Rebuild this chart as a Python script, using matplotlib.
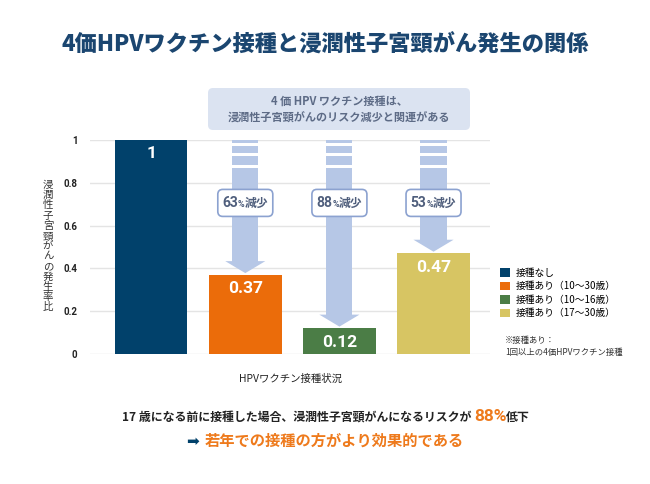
import matplotlib
matplotlib.use('Agg')
import matplotlib.pyplot as plt
import matplotlib.transforms as mtransforms
from matplotlib.patches import Rectangle, Polygon, FancyBboxPatch

plt.rcParams['font.family'] = ['Noto Sans CJK JP', 'DejaVu Sans']

# data
categories = ['接種なし', '接種あり（10～30歳）', '接種あり（10～16歳）', '接種あり（17～30歳）']
values = [1.0, 0.37, 0.12, 0.47]
value_labels = ['1', '0.37', '0.12', '0.47']
reductions = ['', '63', '88', '53']
yticks = [0, 0.2, 0.4, 0.6, 0.8, 1.0]
ytick_labels = ['0', '0.2', '0.4', '0.6', '0.8', '1']
colors = ['#01416b', '#eb6c0a', '#4b7d46', '#d7c563']

title = '4価HPVワクチン接種と浸潤性子宮頸がん発生の関係'
box_lines = ['4 価 HPV ワクチン接種は、', '浸潤性子宮頸がんのリスク減少と関連がある']
ylabel = '浸潤性子宮頸がんの発生率比'
xlabel = 'HPVワクチン接種状況'
note_lines = ['※接種あり：', '1回以上の4価HPVワクチン接種']

ARROW = '#b6c7e6'
W, H = 650, 484

fig = plt.figure(figsize=(6.5, 4.84), dpi=100)
fig.patch.set_facecolor('white')
ax = fig.add_axes([90 / W, (H - 354) / H, 400 / W, 214 / H])
x = list(range(len(values)))
bars = ax.bar(x, values, width=0.77, color=colors, zorder=3)
ax.set_xlim(-0.65, 3.6)
ax.set_ylim(0, 1)
ax.set_yticks(yticks)
ax.set_yticklabels(ytick_labels, fontfamily='Roboto', fontweight='bold', fontsize=7, color='#222222')
ax.set_xticks([])
ax.tick_params(axis='y', length=0, pad=9)
ax.grid(axis='y', color='#e4e4e4', linewidth=1, zorder=0)
for s in ax.spines.values():
    s.set_visible(False)
ax.set_xlabel(xlabel, fontsize=7.5, color='#222222', labelpad=14)

ident = mtransforms.IdentityTransform()
rend = fig.canvas.get_renderer()


def line_of(pieces, cx, py, z=3):
    texts = [fig.text(0, 0, s, transform=ident, va='baseline', ha='left', zorder=z, **kw) for s, kw in pieces]
    widths = [t.get_window_extent(rend).width for t in texts]
    xx = cx - sum(widths) / 2
    for t, w in zip(texts, widths):
        t.set_position((xx, H - py))
        xx += w
    return texts


# bar value labels
for i, (v, lab) in enumerate(zip(values, value_labels)):
    ax.annotate(lab, (i, v), xytext=(0, -10), textcoords='offset points', ha='center', va='center',
                color='white', fontfamily='Roboto', fontweight='bold', fontsize=12.5, zorder=5)

# arrows
shaft_w, head_w, head_h, gap = 0.277, 0.426, 0.056, 0.008
stripes = [(0.984, 1.0), (0.938, 0.973), (0.883, 0.927)]
for i, v in enumerate(values):
    if not reductions[i]:
        continue
    tip = v + gap
    base = tip + head_h
    for lo, hi in stripes:
        ax.add_patch(Rectangle((i - shaft_w / 2, lo), shaft_w, hi - lo, color=ARROW, lw=0, clip_on=False, zorder=2))
    ax.add_patch(Rectangle((i - shaft_w / 2, base - 0.002), shaft_w, 0.872 - base, color=ARROW, lw=0, zorder=2))
    ax.add_patch(Polygon([(i - head_w / 2, base), (i + head_w / 2, base), (i, tip)], closed=True,
                         color=ARROW, lw=0, zorder=2))
    # label box
    cx, cy = ax.transData.transform((i, 0.706))
    fig.add_artist(FancyBboxPatch((cx - 27.5, cy - 13.5), 55, 27, boxstyle='round,pad=0,rounding_size=5',
                                  transform=ident, facecolor='white', edgecolor='#8ca2d0', lw=1.2, zorder=6))
    line_of([(reductions[i], dict(fontfamily='Roboto', fontweight='bold', fontsize=10, color='#4f5e7c')),
             ('%', dict(fontfamily='Roboto', fontweight='bold', fontsize=6.5, color='#4f5e7c')),
             ('減少', dict(fontweight='bold', fontsize=8.5, color='#4f5e7c'))],
            cx, H - cy + 4, z=7)

# top box
fig.add_artist(FancyBboxPatch((2.08, 3.54), 2.62, 0.42, boxstyle='round,pad=0,rounding_size=0.05',
                              transform=fig.dpi_scale_trans, facecolor='#dbe3f1', edgecolor='none'))
fig.text(339 / W, 1 - 101 / H, box_lines[0], ha='center', va='center', fontsize=8, fontweight='bold', color='#5d6b86')
fig.text(339 / W, 1 - 118 / H, box_lines[1], ha='center', va='center', fontsize=8, fontweight='bold', color='#5d6b86')

# title
fig.text(325 / W, 1 - 45 / H, title, ha='center', va='center', fontsize=16, fontweight='heavy', color='#1b4670')

# vertical y label
for k, ch in enumerate(ylabel):
    fig.text(48 / W, 1 - (185 + k * 10.2) / H, ch, ha='center', va='center', fontsize=7.5, color='#333333')

# legend
fig.legend(bars, categories, loc='upper left', bbox_to_anchor=(500 / W, 1 - 268 / H), frameon=False,
           fontsize=7, handlelength=1.0, handleheight=1.0, handletextpad=0.6, labelspacing=0.35,
           borderaxespad=0, borderpad=0)
fig.text(505 / W, 1 - 340 / H, note_lines[0], ha='left', va='center', fontsize=6, color='#333333')
fig.text(505 / W, 1 - 352 / H, note_lines[1], ha='left', va='center', fontsize=6, color='#333333')

# bottom message
line_of([('17 歳になる前に接種した場合、浸潤性子宮頸がんになるリスクが ', dict(fontweight='bold', fontsize=8.6, color='#222222')),
         ('88%', dict(fontfamily='Roboto', fontweight='bold', fontsize=12.5, color='#ee7a1c')),
         ('低下', dict(fontweight='bold', fontsize=8.6, color='#222222'))],
        326, 421)
line_of([('➡ ', dict(fontfamily='DejaVu Sans', fontsize=11, color='#01416b')),
         ('若年での接種の方がより効果的である', dict(fontweight='bold', fontsize=11, color='#ee7a1c'))],
        325, 446)

fig.savefig('out.png', dpi=100, facecolor='white')
